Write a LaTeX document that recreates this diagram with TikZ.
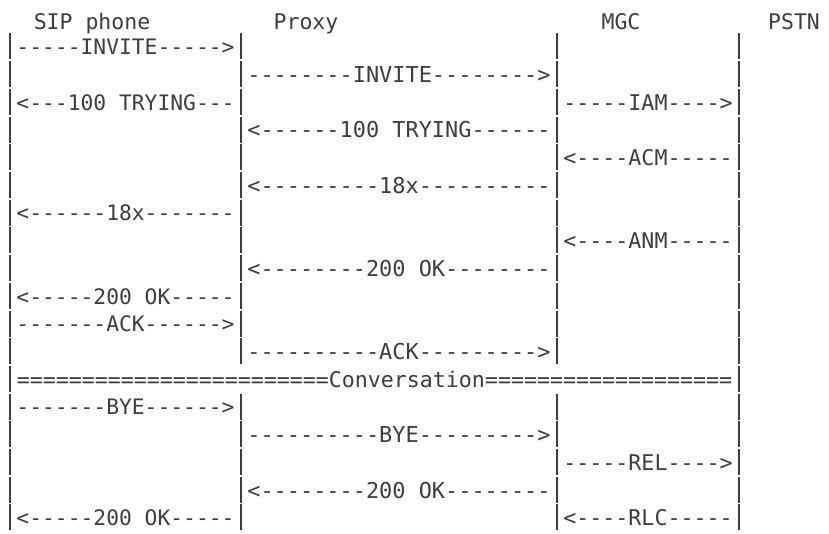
\documentclass[tikz,border=0pt]{standalone}
\usepackage{fontspec}
\setmonofont{DejaVu Sans Mono}
\definecolor{ink}{RGB}{62,62,62}
\begin{document}
\begin{tikzpicture}[x=1pt,y=-1pt,
  txt/.style={font=\ttfamily\fontsize{21.5}{21.5}\selectfont, text=ink, inner sep=0pt, anchor=base},
  txtL/.style={txt, font=\ttfamily\fontsize{21.3}{21.3}\selectfont},
  txtM/.style={txt, font=\ttfamily\fontsize{21.9}{21.9}\selectfont},
  txtR/.style={txt, font=\ttfamily\fontsize{21.65}{21.65}\selectfont},
  txtC/.style={txt, font=\ttfamily\fontsize{21.6}{21.6}\selectfont},
  bar/.style={draw=ink, line width=1.8pt}]
\useasboundingbox[fill=white] (0,0) rectangle (829,534);
% lifeline x positions
\def\xS{10}\def\xP{241}\def\xM{557}\def\xT{739}
% message centres
\def\cL{125.5}\def\cM{399}\def\cR{648}\def\cC{374.5}
% bars, one per text row
\foreach \k in {1,...,18}{
  \pgfmathsetmacro\yy{47+(\k-1)*27.7}
  \draw[bar] (\xS,\yy-13.5) -- (\xS,\yy+12.5);
  \draw[bar] (\xT,\yy-13.5) -- (\xT,\yy+12.5);
  \ifnum\k=13\else
    \draw[bar] (\xP,\yy-13.5) -- (\xP,\yy+12.5);
    \draw[bar] (\xM,\yy-13.5) -- (\xM,\yy+12.5);
  \fi
}
% titles
\node[txt] (tS) at (92,29.5) {SIP phone};
\node[txt] (tP) at (306,29.5) {Proxy};
\node[txt] (tM) at (621,29.5) {MGC};
\node[txt] (tT) at (794,29.5) {PSTN};
% messages (baseline = row centre + 7.8)
\node[txtL] (m1)  at (\cL,{47+0*27.7+7.8})  {-----INVITE----->};
\node[txtM] (m2)  at (\cM,{47+1*27.7+7.8})  {--------INVITE-------->};
\node[txtL] (m3a) at (\cL,{47+2*27.7+7.8})  {<---100 TRYING---};
\node[txtR] (m3b) at (\cR,{47+2*27.7+7.8})  {-----IAM---->};
\node[txtM] (m4)  at (\cM,{47+3*27.7+7.8})  {<------100 TRYING------};
\node[txtR] (m5)  at (\cR,{47+4*27.7+7.8})  {<----ACM-----};
\node[txtM] (m6)  at (\cM,{47+5*27.7+7.8})  {<---------18x----------};
\node[txtL] (m7)  at (\cL,{47+6*27.7+7.8})  {<------18x-------};
\node[txtR] (m8)  at (\cR,{47+7*27.7+7.8})  {<----ANM-----};
\node[txtM] (m9)  at (\cM,{47+8*27.7+7.8})  {<--------200 OK--------};
\node[txtL] (m10) at (\cL,{47+9*27.7+7.8})  {<-----200 OK-----};
\node[txtL] (m11) at (\cL,{47+10*27.7+7.8}) {-------ACK------>};
\node[txtM] (m12) at (\cM,{47+11*27.7+7.8}) {----------ACK--------->};
\node[txtC] (m13) at (\cC,{47+12*27.7+7.8}) {========================Conversation===================};
\node[txtL] (m14) at (\cL,{47+13*27.7+7.8}) {-------BYE------>};
\node[txtM] (m15) at (\cM,{47+14*27.7+7.8}) {----------BYE--------->};
\node[txtR] (m16) at (\cR,{47+15*27.7+7.8}) {-----REL---->};
\node[txtM] (m17) at (\cM,{47+16*27.7+7.8}) {<--------200 OK--------};
\node[txtL] (m18a) at (\cL,{47+17*27.7+7.8}) {<-----200 OK-----};
\node[txtR] (m18b) at (\cR,{47+17*27.7+7.8}) {<----RLC-----};
\end{tikzpicture}
\end{document}
